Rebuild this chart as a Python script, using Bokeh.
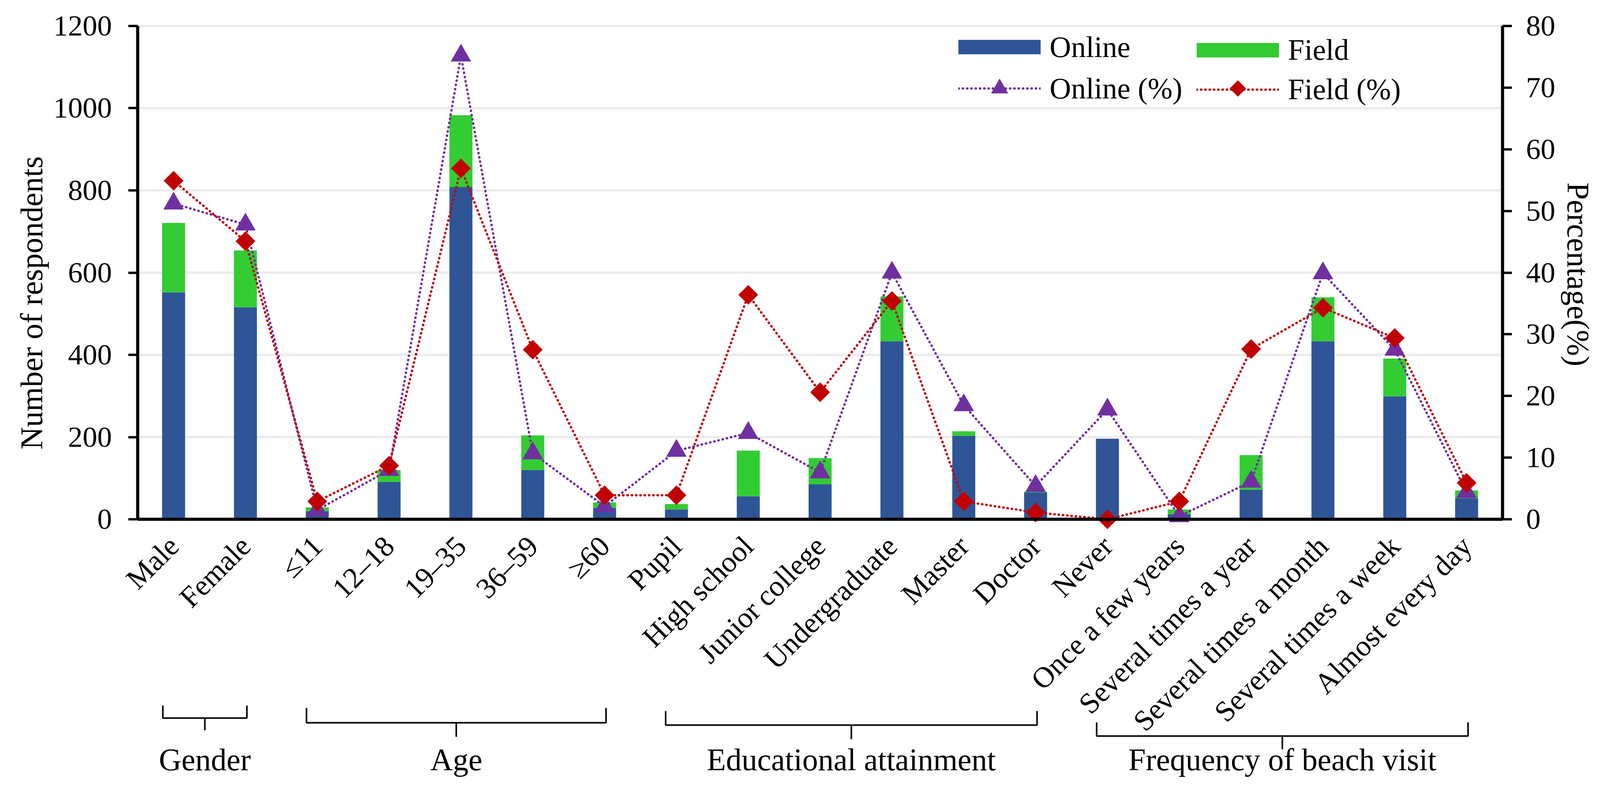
import math
import numpy as np
from bokeh.plotting import figure
from bokeh.models import Range1d, LinearAxis, FixedTicker, Legend, LegendItem
from bokeh.core.properties import value
from bokeh.embed import file_html
from bokeh.resources import INLINE

# ---------------- data ----------------
categories = ["Male", "Female", "≤11", "12–18", "19–35", "36–59", "≥60",
              "Pupil", "High school", "Junior college", "Undergraduate", "Master", "Doctor",
              "Never", "Once a few years", "Several times a year", "Several times a month",
              "Several times a week", "Almost every day"]
online = [552, 516, 20, 91, 808, 120, 27, 24, 56, 85, 433, 203, 65, 196, 12, 72, 433, 299, 51]
field = [169, 138, 9, 29, 175, 84, 14, 13, 111, 64, 109, 11, 2, 0, 12, 84, 107, 92, 19]
online_pct = [51.2, 47.8, 1.5, 8.0, 75.2, 10.7, 2.1, 11.1, 14.0, 7.6, 40.0, 18.5, 5.4,
              17.8, 0.5, 6.1, 39.9, 27.5, 4.4]
field_pct = [54.9, 45.1, 2.9, 8.7, 56.9, 27.5, 3.9, 3.9, 36.4, 20.6, 35.4, 2.9, 1.1,
             0.0, 2.9, 27.6, 34.3, 29.4, 5.9]
count_ticks = [0, 200, 400, 600, 800, 1000, 1200]
pct_ticks = [0, 10, 20, 30, 40, 50, 60, 70, 80]
group_names = ["Gender", "Age", "Educational attainment", "Frequency of beach visit"]
group_first = [0, 2, 7, 13]
group_last = [1, 6, 12, 18]

# ---------------- style ----------------
FONT = "Liberation Serif"
BLUE = "#2F5597"
GREEN = "#33CC33"
PURPLE = "#7030A0"
RED = "#C00000"
GRID = "#EBEBEB"

W, H = 4108, 2022
X0, X1 = -1.914, 20.425
Y0, Y1 = -658.4, 1262.7
PX_X = W / (X1 - X0)
PX_Y = H / (Y1 - Y0)

n = len(categories)
xc = np.arange(n) + 0.5
total = (np.array(online) + np.array(field)).tolist()

p = figure(width=W, height=H, x_range=Range1d(X0, X1), y_range=Range1d(Y0, Y1),
           x_axis_type=None, y_axis_type=None, toolbar_location=None, output_backend="svg",
           min_border=0, title=None, outline_line_color=None)
p.extra_y_ranges = {"pct": Range1d(Y0 * 80 / 1200, Y1 * 80 / 1200)}

# grid lines (only across the plotting area)
p.segment(x0=0, x1=n, y0=count_ticks[1:], y1=count_ticks[1:], line_color=GRID, line_width=6)

# stacked bars
p.vbar(x=xc, bottom=0, top=online, width=0.32, fill_color=BLUE, line_color=None)
p.vbar(x=xc, bottom=online, top=total, width=0.32, fill_color=GREEN, line_color=None)

# percentage lines
l_on = p.line(xc, online_pct, y_range_name="pct", line_color=PURPLE, line_width=6,
              line_dash="1 10", line_cap="round")
l_fi = p.line(xc, field_pct, y_range_name="pct", line_color=RED, line_width=6,
              line_dash="1 10", line_cap="round")
s_on = p.scatter(xc, online_pct, y_range_name="pct", marker="triangle", size=51,
                 fill_color=PURPLE, line_color=PURPLE)
s_fi = p.scatter(xc, field_pct, y_range_name="pct", marker="square", angle=math.pi / 4, size=35,
                 fill_color=RED, line_color=RED)

# axes
def style_axis(ax):
    ax.axis_line_width = 8
    ax.axis_line_color = "black"
    ax.major_tick_line_width = 6
    ax.major_tick_line_color = "black"
    ax.major_tick_out = 24
    ax.major_tick_in = 0
    ax.minor_tick_line_color = None
    ax.major_label_text_font = FONT
    ax.major_label_text_font_size = "75px"
    ax.major_label_text_color = "black"

yl = LinearAxis(fixed_location=0, bounds=(0, 1200), ticker=FixedTicker(ticks=count_ticks))
style_axis(yl)
yl.major_label_standoff = 42
p.add_layout(yl, "left")

yr = LinearAxis(y_range_name="pct", fixed_location=n, bounds=(0, 80),
                ticker=FixedTicker(ticks=pct_ticks))
style_axis(yr)
yr.major_label_standoff = 36
p.add_layout(yr, "right")

xa = LinearAxis(fixed_location=0, bounds=(0, n), ticker=FixedTicker(ticks=xc.tolist()),
                major_label_overrides={float(x): c for x, c in zip(xc, categories)},
                major_label_orientation=math.pi / 4)
style_axis(xa)
xa.major_tick_line_color = None
xa.major_tick_out = 0
xa.major_label_standoff = 56
p.add_layout(xa, "below")

# axis titles
p.text(x=[-1.474], y=[526.4], text=["Number of respondents"], angle=math.pi / 2,
       text_font=value(FONT), text_font_size=value("80px"), text_align="center",
       text_baseline="middle", text_color="black")
p.text(x=[20.05], y=[595.7], text=["Percentage(%)"], angle=-math.pi / 2,
       text_font=value(FONT), text_font_size=value("80px"), text_align="center",
       text_baseline="middle", text_color="black")

# group brackets and labels
br_top = [-453.2, -458.9, -466.5, -494.1]
br_line = [-483.6, -495.0, -500.7, -527.3]
br_tip = [-513.1, -529.2, -534.9, -559.6]
lefts = [f + 0.35 for f in group_first]
rights = [l + 0.52 for l in group_last]
centers = [(a + b) / 2 for a, b in zip(lefts, rights)]
p.multi_line(xs=[[a, a, b, b] for a, b in zip(lefts, rights)],
             ys=[[t, m, m, t] for t, m in zip(br_top, br_line)],
             line_color="black", line_width=4)
p.segment(x0=centers, x1=centers, y0=br_line, y1=br_tip, line_color="black", line_width=4)
p.text(x=centers, y=[-585.0] * len(centers), text=group_names, text_font=value(FONT),
       text_font_size=value("80px"), text_align="center", text_baseline="alphabetic",
       text_color="black")

# legend: swatches via off-range line renderers
sw_on = p.line(x=[100, 101], y=[0, 0], line_color=BLUE, line_width=37, line_cap="butt")
sw_fi = p.line(x=[100, 101], y=[0, 0], line_color=GREEN, line_width=37, line_cap="butt")

GLYPH_W = 211
LEG_A_X, LEG_B_X = 2453, 3063
ROW2_Y = 226  # screen px from top of frame, centre of second legend row

def make_legend(items, loc, gh, spacing):
    lg = Legend(items=items, location=loc, orientation="vertical", glyph_width=GLYPH_W,
                glyph_height=gh, spacing=spacing, label_standoff=23, padding=0, margin=0,
                border_line_color=None, background_fill_alpha=0,
                label_text_font=FONT, label_text_font_size="76px", label_text_color="black")
    p.add_layout(lg)

make_legend([LegendItem(label="Online", renderers=[sw_on]),
             LegendItem(label="Online (%)", renderers=[l_on, s_on])], (LEG_A_X, 1743), 106, 0)
make_legend([LegendItem(label="Field", renderers=[sw_fi]),
             LegendItem(label="Field (%)", renderers=[l_fi])], (LEG_B_X, 1750), 72, 14)

# diamond key for the "Field (%)" legend entry (legend keys ignore marker angle)
p.scatter(x=[X0 + (LEG_B_X + GLYPH_W / 2) / PX_X], y=[Y1 - ROW2_Y / PX_Y], marker="square",
          angle=math.pi / 4, size=29, fill_color=RED, line_color=RED)

open("out.html", "w").write(file_html(p, INLINE))
